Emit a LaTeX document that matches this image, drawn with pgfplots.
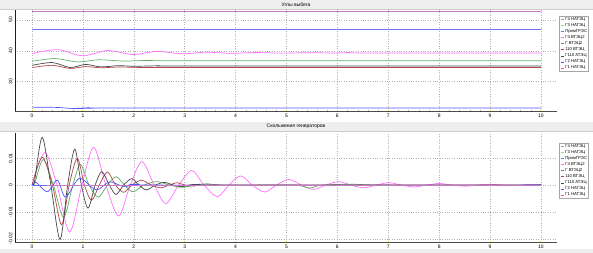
\documentclass[border=0pt]{standalone}
\usepackage{pgfplots}
\pgfplotsset{compat=1.18}
\usepackage{fontspec}
\setmainfont{Liberation Sans}
\definecolor{cGfourN}{HTML}{C878C8}
\definecolor{cGthreeN}{HTML}{80F080}
\definecolor{cPrim}{HTML}{7070F0}
\definecolor{cGfourV}{HTML}{FF70FF}
\definecolor{cGV}{HTML}{40A040}
\definecolor{cOneTen}{HTML}{B04848}
\definecolor{cGA}{HTML}{484848}
\definecolor{cGtwoN}{HTML}{5050FF}
\definecolor{cGoneN}{HTML}{FF6060}
\definecolor{stripgray}{HTML}{EEEEEE}
\pgfplotsset{
  panel/.style={
    scale only axis,
    axis x line=bottom, axis y line=left,
    axis line style={-},
    x axis line style={draw=gray!60!black, line width=0.8pt},
    y axis line style={draw=violet!55!black, line width=0.8pt},
    xmin=-0.335, xmax=10.31,
    xtick={0,...,10},
    minor x tick num=4,
    major tick length=2pt, minor tick length=1.2pt,
    xtick style={draw=yellow!85!orange, line width=0.9pt},
    minor x tick style={draw=gray!70, line width=0.3pt},
    ytick style={draw=none},
    grid=major,
    major grid style={dotted, gray!60, line width=0.5pt},
    tick label style={font=\fontsize{5}{6}\selectfont},
    /pgf/number format/assume math mode=true,
    xticklabel style={inner sep=1pt, yshift=-0.5pt},
    yticklabel style={rotate=90, anchor=south, inner sep=1.5pt},
    scaled y ticks=false,
    legend cell align=left,
    legend style={draw=gray!70, fill=white, font=\fontsize{4.2}{5}\selectfont,
      inner sep=0.8pt, row sep=0.6pt, nodes={inner sep=0.5pt},
      anchor=north west},
    legend image code/.code={\draw[#1, line width=0.9pt] (0pt,0pt) -- (3.5pt,0pt);},
    every axis plot/.append style={line width=0.7pt},
  }
}
\begin{document}
\begin{tikzpicture}
\useasboundingbox (0pt,0pt) rectangle (593pt,253pt);
\fill[white] (0pt,0pt) rectangle (593pt,253pt);
\fill[stripgray] (0pt,244pt) rectangle (593pt,253pt);
\draw[gray!40] (0pt,244pt) -- (593pt,244pt);
\fill[stripgray] (0pt,122pt) rectangle (593pt,131pt);
\draw[gray!40] (0pt,122pt) -- (593pt,122pt);
\fill[stripgray] (0pt,0pt) rectangle (593pt,4pt);
\node[font=\fontsize{5}{6}\selectfont, inner sep=0pt] at (296pt,248.8pt) {Углы выбега};
\node[font=\fontsize{5}{6}\selectfont, inner sep=0pt] at (296pt,126.3pt) {Скольжения генераторов};

% ---------------- top panel ----------------
\begin{axis}[panel,
  at={(15pt,142pt)}, anchor=south west,
  width=541.7pt, height=101pt,
  ymin=20.5, ymax=53.24,
  ytick={30,40,50},
  legend style={at={(1.005,0.94)}},
]
\addlegendimage{cGfourN}\addlegendentry{Г4 НАТЭЦ}
\addlegendimage{cGthreeN}\addlegendentry{Г3 НАТЭЦ}
\addlegendimage{cPrim}\addlegendentry{ПримГРЭС}
\addlegendimage{cGfourV}\addlegendentry{Г4 ВТЭЦ2}
\addlegendimage{cGV}\addlegendentry{Г ВТЭЦ2}
\addlegendimage{cOneTen}\addlegendentry{110 ВТЭЦ}
\addlegendimage{cGA}\addlegendentry{Г110 АТЭЦ}
\addlegendimage{cGtwoN}\addlegendentry{Г2 НАТЭЦ}
\addlegendimage{cGoneN}\addlegendentry{Г1 НАТЭЦ}
% Г3 НАТЭЦ / Г1 НАТЭЦ (hidden under Г4 НАТЭЦ)
\addplot[cGthreeN, forget plot] coordinates {(0,52.75) (10,52.75)};
\addplot[cGoneN, forget plot] coordinates {(0,52.8) (10,52.8)};
\addplot[cGfourN, line width=1pt, forget plot] coordinates {(0,52.7) (10,52.7)};
% ПримГРЭС
\addplot[cPrim, forget plot] coordinates {(0,47.0) (10,47.0)};
% Г2 НАТЭЦ
\addplot[cGtwoN!80!cPrim, smooth, forget plot] coordinates {(0,21.75) (0.5,21.65) (0.75,21.35) (1.0,21.3) (1.1,21.6) (1.2,21.4) (1.5,21.45) (10,21.45)};
% 110 ВТЭЦ
\addplot[cOneTen, smooth, forget plot] coordinates {(0,34.6) (0.4,35.3) (0.75,34.3) (1.05,34.9) (1.35,34.5) (1.7,34.75) (2.2,34.6) (3,34.6) (10,34.6)};
% Г110 АТЭЦ
\addplot[cGA, smooth, forget plot] coordinates {(0,35.3) (0.4,36.2) (0.75,34.6) (1.05,35.6) (1.35,34.8) (1.7,35.2) (2.0,35.0) (2.5,35.15) (3,35.1) (10,35.1)};
% Г ВТЭЦ2
\addplot[cGV!80!white, smooth, forget plot] coordinates {(0,36.6) (0.45,37.5) (0.9,36.4) (1.3,37.1) (1.8,36.7) (2.3,36.9) (3,36.8) (10,36.8)};
% Г4 ВТЭЦ2
\addplot[cGfourV, smooth, forget plot] coordinates {(0,39.1) (0.5,40.4) (1.0,38.4) (1.48,40.1) (1.98,38.8) (2.45,39.8) (2.95,39.05) (3.42,39.55) (3.92,39.2) (4.4,39.45) (4.9,39.25) (5.4,39.4) (6.0,39.3) (6.2,39.45) (6.4,39.32) (7,39.33) (10,39.33)};
\end{axis}

% ---------------- bottom panel ----------------
\begin{axis}[panel,
  at={(15pt,10.7pt)}, anchor=south west,
  width=541.7pt, height=109.3pt,
  ymin=-0.0213, ymax=0.0194,
  ytick={-0.02,-0.01,0,0.01},
  yticklabels={-0.02,-0.01,0,0.01},
  legend style={at={(1.005,0.908)}},
]
\addlegendimage{cGfourN}\addlegendentry{Г4 НАТЭЦ}
\addlegendimage{cGthreeN}\addlegendentry{Г3 НАТЭЦ}
\addlegendimage{cPrim}\addlegendentry{ПримГРЭС}
\addlegendimage{cGfourV}\addlegendentry{Г4 ВТЭЦ2}
\addlegendimage{cGV}\addlegendentry{Г ВТЭЦ2}
\addlegendimage{cOneTen}\addlegendentry{110 ВТЭЦ}
\addlegendimage{cGA}\addlegendentry{Г110 АТЭЦ}
\addlegendimage{cGtwoN}\addlegendentry{Г2 НАТЭЦ}
\addlegendimage{cGoneN}\addlegendentry{Г1 НАТЭЦ}
% Г4 ВТЭЦ2
\addplot[cGfourV, smooth, forget plot] coordinates {(0,0) (0.25,0.0122) (0.49,0) (0.74,-0.0175) (0.98,0) (1.21,0.0141) (1.45,0) (1.70,-0.0115) (1.93,0) (2.16,0.0087) (2.40,0) (2.63,-0.0069) (2.88,0) (3.14,0.0054) (3.38,0) (3.64,-0.0043) (3.87,0) (4.1,0.0034) (4.33,0) (4.57,-0.0026) (4.8,0) (5.05,0.0021) (5.29,0) (5.53,-0.0016) (5.77,0) (6.02,0.0013) (6.27,0) (6.52,-0.0010) (6.76,0) (7.01,0.0009) (7.26,0) (7.5,-0.0007) (7.75,0) (8.0,0.0006) (8.25,0) (8.5,-0.0004) (8.75,0) (9.0,0.0003) (9.25,0) (9.5,-0.0002) (9.75,0) (10,0.0001)};
% Г ВТЭЦ2
\addplot[cGV!85!white, smooth, forget plot] coordinates {(0,0) (0.05,0.0005) (0.22,0.0095) (0.42,0) (0.62,-0.012) (0.8,0) (0.95,0.0077) (1.12,0) (1.3,-0.0045) (1.48,0) (1.65,0.0031) (1.82,0) (1.98,-0.0025) (2.2,0) (2.45,0.0013) (2.7,0) (2.95,-0.0008) (3.2,0) (3.45,0.0005) (3.7,0) (4.5,0) (5.2,0) (5.45,-0.0011) (5.7,0) (6.3,0.0003) (7,0) (10,0)};
% 110 ВТЭЦ
\addplot[cOneTen, smooth, forget plot] coordinates {(0,0) (0.2,0.0104) (0.4,0) (0.58,-0.0148) (0.73,0) (0.89,0.0100) (1.03,0) (1.17,-0.0057) (1.32,0) (1.48,0.0049) (1.64,0) (1.8,-0.0027) (1.96,0) (2.15,0.0018) (2.35,0) (2.52,-0.0010) (2.7,0) (2.85,0.0009) (3.0,0) (3.2,-0.0004) (3.4,0) (10,0)};
% Г110 АТЭЦ
\addplot[cGA, smooth, forget plot] coordinates {(0,0) (0.05,0.0015) (0.2,0.0178) (0.37,0) (0.55,-0.0203) (0.7,0) (0.84,0.0134) (0.97,0) (1.1,-0.0086) (1.24,0) (1.37,0.005) (1.52,0) (1.65,-0.0035) (1.8,0) (1.96,0.0024) (2.1,0) (2.25,-0.0018) (2.42,0) (2.6,0.0010) (2.78,0) (2.95,-0.0006) (3.1,0) (3.3,0.0003) (3.6,0) (10,0)};
% Г2 НАТЭЦ
\addplot[cGtwoN, smooth, forget plot] coordinates {(0,0) (0.08,0.001) (0.3,-0.0025) (0.5,0.0018) (0.66,-0.0045) (0.93,0.0025) (1.26,-0.0018) (1.52,0.0012) (1.8,-0.0005) (2.1,0.0003) (2.5,0) (10,0)};
% zero lines
\addplot[cGthreeN, forget plot] coordinates {(0,0) (10,0)};
\addplot[cGoneN, forget plot] coordinates {(0,0) (10,0)};
\addplot[cPrim, forget plot] coordinates {(0,0) (10,0)};
\addplot[cGfourN, line width=1pt, forget plot] coordinates {(0.3,0) (10,0)};
\end{axis}
\end{tikzpicture}
\end{document}
